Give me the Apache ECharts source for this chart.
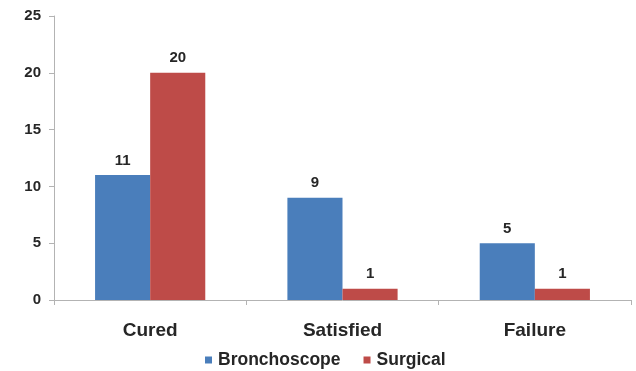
<!DOCTYPE html>
<html><head><meta charset="utf-8">
<script src="https://cdn.jsdelivr.net/npm/echarts@6/dist/echarts.min.js"></script>
<style>html,body{margin:0;padding:0;background:#fff}#c{width:636px;height:371px}</style>
</head><body><div id="c"></div>
<script>
const categories = ['Cured', 'Satisfied', 'Failure'];
const bronchoscope = [11, 9, 5];
const surgical = [20, 1, 1];
const yTicks = [0, 5, 10, 15, 20, 25];

const chart = echarts.init(document.getElementById('c'), null, {renderer: 'canvas'});
const font = '"Liberation Sans", Arial, sans-serif';
const lbl = {show: true, position: 'top', color: '#262626', fontFamily: font, fontWeight: 'bold', fontSize: 15, distance: 7};
chart.setOption({
  animation: false,
  backgroundColor: '#fff',
  grid: {left: 54, right: 5, top: 16, bottom: 71},
  legend: {
    top: 346, left: 200, itemWidth: 7, itemHeight: 7, itemGap: 23, icon: 'rect',
    textStyle: {fontFamily: font, fontWeight: 'bold', fontSize: 17.5, color: '#262626', padding: [0, 0, 0, 1]},
    data: ['Bronchoscope', 'Surgical']
  },
  xAxis: {
    type: 'category', data: categories,
    axisLine: {lineStyle: {color: '#b3b3b3', width: 1}},
    axisTick: {show: true, alignWithLabel: false, length: 5, lineStyle: {color: '#b3b3b3'}},
    axisLabel: {fontFamily: font, fontWeight: 'bold', fontSize: 19, color: '#262626', margin: 21}
  },
  yAxis: {
    type: 'value', min: yTicks[0], max: yTicks[yTicks.length - 1], interval: 5,
    splitLine: {show: false},
    axisLine: {show: true, lineStyle: {color: '#b3b3b3', width: 1}},
    axisTick: {show: true, length: 5, lineStyle: {color: '#b3b3b3'}},
    axisLabel: {fontFamily: font, fontWeight: 'bold', fontSize: 15, color: '#262626', margin: 13}
  },
  series: [
    {name: 'Bronchoscope', type: 'bar', data: bronchoscope, barGap: '0%', barCategoryGap: '42.7%',
     itemStyle: {color: '#4a7ebb'}, label: lbl},
    {name: 'Surgical', type: 'bar', data: surgical, barGap: '0%', barCategoryGap: '42.7%',
     itemStyle: {color: '#be4b48'}, label: lbl}
  ]
});
</script></body></html>
